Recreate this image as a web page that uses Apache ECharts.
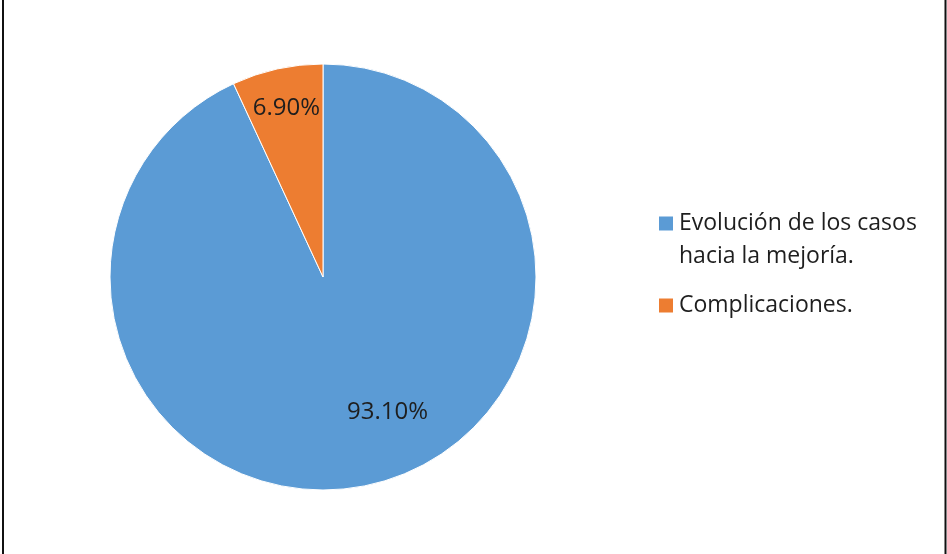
<!DOCTYPE html>
<html>
<head>
<meta charset="utf-8">
<script src="https://cdn.jsdelivr.net/npm/echarts@6/dist/echarts.min.js"></script>
<style>
  html, body { margin: 0; padding: 0; background: #fff; }
  #chart { width: 947px; height: 554px; }
</style>
</head>
<body>
<div id="chart"></div>
<script>
// Outcome categories and their shares (percent)
const categories = ['Evolución de los casos hacia la mejoría.', 'Complicaciones.'];
const legendLines = [['Evolución de los casos', 'hacia la mejoría.'], ['Complicaciones.']];
const shares = [93.10, 6.90];
const colors = ['#5B9BD5', '#ED7D31'];

// Where each percentage label sits relative to its slice's default inside spot
const labelOffsets = [[41, 28], [-13, -62]];

const chart = echarts.init(document.getElementById('chart'), null, { renderer: 'canvas' });

const pieData = categories.map((name, i) => ({
  name: name,
  value: shares[i],
  itemStyle: { color: colors[i] },
  label: { offset: labelOffsets[i] }
}));

// Legend text is centred on its swatch; a wrapped entry gets an equal blank
// line on top so that its first line stays level with the swatch.
function legendText(name) {
  const lines = legendLines[categories.indexOf(name)];
  if (lines.length === 1) return lines[0];
  const pad = new Array(lines.length - 1).fill('');
  return pad.concat(lines).join('\n');
}

chart.setOption({
  animation: false,
  backgroundColor: '#fff',
  legend: {
    orient: 'vertical',
    left: 652,
    top: 169,
    itemWidth: 16,
    itemHeight: 16,
    itemGap: 16,
    icon: 'rect',
    selectedMode: false,
    formatter: legendText,
    textStyle: {
      fontFamily: 'Open Sans',
      fontSize: 23,
      color: '#1e1e1e',
      lineHeight: 33
    },
    data: categories
  },
  series: [{
    type: 'pie',
    center: [323, 277],
    radius: 213,
    startAngle: 90,
    clockwise: true,
    avoidLabelOverlap: false,
    itemStyle: { borderColor: '#fff', borderWidth: 1 },
    label: {
      show: true,
      position: 'inside',
      formatter: function (p) { return p.value.toFixed(2) + '%'; },
      fontFamily: 'Open Sans',
      fontSize: 24,
      color: '#1e1e1e'
    },
    labelLine: { show: false },
    emphasis: { disabled: true },
    data: pieData
  }],
  graphic: [
    { type: 'line', shape: { x1: 3, y1: 0, x2: 3, y2: 554 }, style: { stroke: '#111', lineWidth: 2 } },
    { type: 'line', shape: { x1: 945.5, y1: 0, x2: 945.5, y2: 554 }, style: { stroke: '#111', lineWidth: 2 } }
  ]
});
</script>
</body>
</html>
